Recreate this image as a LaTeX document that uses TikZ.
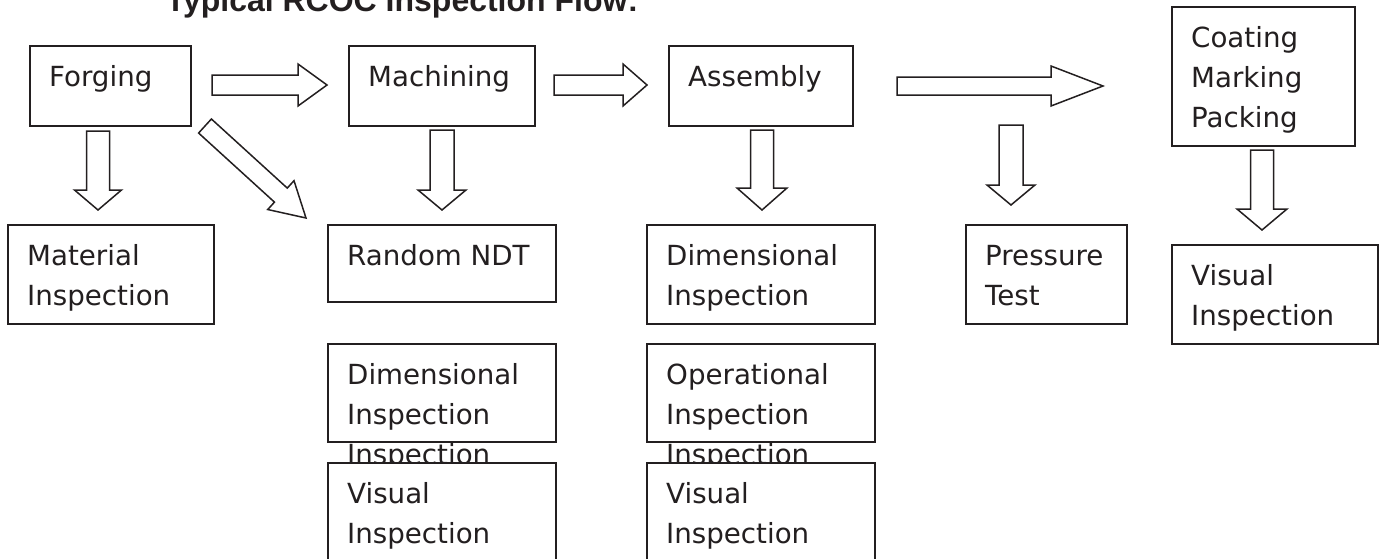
\documentclass[tikz,border=0pt]{standalone}
\usepackage{fontspec}
\setmainfont{DejaVu Sans}
\newfontfamily\titlefont{Liberation Sans}
\usetikzlibrary{calc}
\definecolor{ink}{HTML}{231F20}
\tikzset{
  box/.style={draw=ink, line width=1.5pt, fill=white, rectangle, inner sep=0pt, anchor=north west},
  txt/.style={anchor=north west, inner sep=0pt, align=left, text=ink, font=\fontsize{27.7}{40}\selectfont},
  blk/.style={draw=ink, line width=1.5pt, fill=white, line join=miter},
}
\newcommand\mkbox[6]{%
  \node[box, minimum width=#4pt, minimum height=#5pt] (#1) at (#2,#3) {};
  \node[txt] (#1t) at ($(#1.north west)+(20,0)$) {\rule{0pt}{41pt}#6};
}
\newcommand\barrow[5]{%
  \coordinate (bn) at ($(#2)!#5pt!(#1)$);
  \draw[blk] ($(#1)!#3pt!90:(#2)$) -- ($(bn)!#3pt!90:(#2)$) -- ($(bn)!#4pt!90:(#2)$) -- (#2)
    -- ($(bn)!#4pt!-90:(#2)$) -- ($(bn)!#3pt!-90:(#2)$) -- ($(#1)!#3pt!-90:(#2)$) -- cycle;
}
\begin{document}
\begin{tikzpicture}[x=1pt, y=-1pt]
\useasboundingbox (0,0) rectangle (1385,558);
\node[font=\titlefont\bfseries\fontsize{32}{38}\selectfont, text=ink, anchor=base] (title) at (402,11) {Typical RCOC Inspection Flow:};

\mkbox{forging}{29}{45}{161}{80}{Forging}
\mkbox{machining}{348}{45}{186}{80}{Machining}
\mkbox{assembly}{668}{45}{184}{80}{Assembly}
\mkbox{coating}{1171}{6}{183}{139}{Coating\\Marking\\Packing}
\mkbox{material}{7}{224}{206}{99}{Material\\Inspection}
\mkbox{ndt}{327}{224}{228}{77}{Random NDT}
\mkbox{dimA}{646}{224}{228}{99}{Dimensional\\Inspection}
\mkbox{pressure}{965}{224}{161}{99}{Pressure\\Test}
\mkbox{visR}{1171}{244}{206}{99}{Visual\\Inspection}
\mkbox{dimM}{327}{343}{228}{98}{Dimensional\\Inspection\\Inspection}
\mkbox{visM}{327}{462}{228}{130}{Visual\\Inspection}
\mkbox{opA}{646}{343}{228}{98}{Operational\\Inspection\\Inspection}
\mkbox{visA}{646}{462}{228}{130}{Visual\\Inspection}

\coordinate (a1s) at (212,85);  \coordinate (a1e) at (327,85);
\coordinate (a2s) at (554,85);  \coordinate (a2e) at (647,85);
\coordinate (a3s) at (897,86);  \coordinate (a3e) at (1103,86);
\coordinate (d1s) at (98,131);  \coordinate (d1e) at (98,210);
\coordinate (dgs) at (205,126); \coordinate (dge) at (306,218);
\coordinate (d2s) at (442,130); \coordinate (d2e) at (442,210);
\coordinate (d3s) at (762,130); \coordinate (d3e) at (762,210);
\coordinate (d4s) at (1011,125); \coordinate (d4e) at (1011,205);
\coordinate (d5s) at (1262,150); \coordinate (d5e) at (1262,230);

\barrow{a1s}{a1e}{10}{21}{29}
\barrow{a2s}{a2e}{10}{21}{24}
\barrow{a3s}{a3e}{9}{20}{52}
\barrow{d1s}{d1e}{11.5}{23.5}{20}
\barrow{dgs}{dge}{9.5}{19.5}{34}
\barrow{d2s}{d2e}{12}{24}{20}
\barrow{d3s}{d3e}{11.5}{25}{22}
\barrow{d4s}{d4e}{12}{24}{20}
\barrow{d5s}{d5e}{11.5}{25}{21}
\end{tikzpicture}
\end{document}
